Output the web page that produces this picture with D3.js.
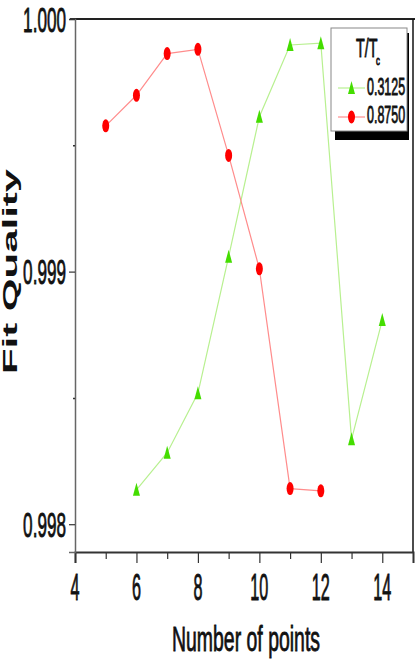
<!DOCTYPE html>
<html>
<head>
<meta charset="utf-8">
<script src="https://cdn.jsdelivr.net/npm/d3@7"></script>
<style>
  body { margin: 0; background: #fff; }
  svg { display: block; font-family: "Liberation Sans", Arial, sans-serif; }
</style>
</head>
<body>
<svg id="chart" width="415" height="664"></svg>
<script>
// data
var xTicks = [4, 6, 8, 10, 12, 14];
var xMinor = [5, 7, 9, 11, 13];
var yTicks = [0.998, 0.999, 1.000];
var yMinor = [0.9985, 0.9995];

var seriesNames = ["0.3125", "0.8750"];
var greenN = [6, 7, 8, 9, 10, 11, 12, 13, 14];
var greenFit = [0.998136, 0.998283, 0.998518, 0.999059, 0.999613, 0.999897, 0.999904, 0.998336, 0.998808];
var redN = [5, 6, 7, 8, 9, 10, 11, 12];
var redFit = [0.999577, 0.999698, 0.999863, 0.999880, 0.999460, 0.999011, 0.998141, 0.998132];

var svg = d3.select("#chart");

var plotLeft = 75, plotRight = 413, plotTop = 19, plotBottom = 552;

var x = d3.scaleLinear().domain([4, 15]).range([plotLeft, plotRight]);
var y = d3.scaleLinear().domain([0.99789, 1.0]).range([plotBottom, plotTop]);

// squeezed text helper (the picture is squashed sideways)
function label(g, txt, px, py, size, sx, anchor) {
  return g.append("text")
    .attr("transform", "translate(" + px + "," + py + ") scale(" + sx + ",1)")
    .attr("text-anchor", anchor)
    .style("font-size", size + "px")
    .attr("fill", "#111")
    .attr("stroke", "#111")
    .attr("stroke-width", 0.7)
    .attr("vector-effect", "non-scaling-stroke")
    .text(txt);
}

// frame
svg.append("line").attr("x1", 70).attr("x2", 415).attr("y1", plotTop).attr("y2", plotTop)
  .attr("stroke", "#222").attr("stroke-width", 2);
svg.append("line").attr("x1", plotRight).attr("x2", plotRight).attr("y1", plotTop).attr("y2", plotBottom)
  .attr("stroke", "#111").attr("stroke-width", 1.5);

// x axis
var xAxis = d3.axisBottom(x).tickValues(xTicks).tickSize(11).tickFormat("");
var gx = svg.append("g").attr("transform", "translate(0," + plotBottom + ")").call(xAxis);
gx.select(".domain").attr("stroke", "#333").attr("stroke-width", 2);
gx.selectAll(".tick line").attr("stroke", "#333").attr("stroke-width", 1.2);
var gxm = svg.append("g").attr("transform", "translate(0," + plotBottom + ")")
  .call(d3.axisBottom(x).tickValues(xMinor).tickSize(7).tickFormat(""));
gxm.select(".domain").remove();
gxm.selectAll(".tick line").attr("stroke", "#333").attr("stroke-width", 1.2);

xTicks.forEach(function(t) {
  label(svg, t, x(t), 600, 36, 0.45, "middle");
});

// y axis
var yAxis = d3.axisLeft(y).tickValues(yTicks).tickSize(6).tickFormat("");
var gy = svg.append("g").attr("transform", "translate(" + plotLeft + ",0)").call(yAxis);
gy.select(".domain").attr("stroke", "#666").attr("stroke-width", 1.5);
gy.selectAll(".tick line").attr("stroke", "#333").attr("stroke-width", 1.2);
var gym = svg.append("g").attr("transform", "translate(" + plotLeft + ",0)")
  .call(d3.axisLeft(y).tickValues(yMinor).tickSize(2).tickFormat(""));
gym.select(".domain").remove();
gym.selectAll(".tick line").attr("stroke", "#333").attr("stroke-width", 1.5);

yTicks.forEach(function(t) {
  label(svg, d3.format(".3f")(t), 66, y(t) + 12.5, 35, 0.49, "end");
});

// axis titles
label(svg, "Number of points", 246, 651, 36, 0.54, "middle");
svg.append("text")
  .attr("transform", "translate(17,271.5) rotate(-90) scale(2,1)")
  .attr("text-anchor", "middle")
  .style("font-size", "21px")
  .style("font-weight", "bold")
  .attr("fill", "#111")
  .text("Fit Quality");

// series
var line = d3.line()
  .x(function(d) { return x(d[0]); })
  .y(function(d) { return y(d[1]); });

var greenData = greenN.map(function(n, i) { return [n, greenFit[i]]; });
var redData = redN.map(function(n, i) { return [n, redFit[i]]; });

var triangle = "M0,-7L3.5,6L-3.5,6Z";

svg.append("path").datum(greenData).attr("d", line)
  .attr("fill", "none").attr("stroke", "#b8f090").attr("stroke-width", 1.2);
svg.append("path").datum(redData).attr("d", line)
  .attr("fill", "none").attr("stroke", "#ff8c8c").attr("stroke-width", 1.2);

svg.append("g").selectAll("path").data(greenData).enter().append("path")
  .attr("d", triangle)
  .attr("transform", function(d) { return "translate(" + x(d[0]) + "," + y(d[1]) + ")"; })
  .attr("fill", "#44dd00");

svg.append("g").selectAll("ellipse").data(redData).enter().append("ellipse")
  .attr("cx", function(d) { return x(d[0]); })
  .attr("cy", function(d) { return y(d[1]); })
  .attr("rx", 3.5).attr("ry", 6.5)
  .attr("fill", "#ff0000");

// legend
var lg = svg.append("g");
lg.append("rect").attr("x", 335).attr("y", 33).attr("width", 74).attr("height", 107).attr("fill", "#000");
lg.append("rect").attr("x", 331).attr("y", 28).attr("width", 76).attr("height", 103)
  .attr("fill", "#fff").attr("stroke", "#888").attr("stroke-width", 1);
label(lg, "T/T", 356, 57, 26, 0.55, "start");
label(lg, "c", 376, 65, 13, 0.6, "start");

lg.append("line").attr("x1", 338).attr("x2", 365).attr("y1", 88).attr("y2", 88)
  .attr("stroke", "#b8f090").attr("stroke-width", 1.2);
lg.append("path").attr("d", triangle).attr("transform", "translate(351.5,88)").attr("fill", "#44dd00");
label(lg, seriesNames[0], 367, 95, 24, 0.52, "start");

lg.append("line").attr("x1", 338).attr("x2", 365).attr("y1", 117).attr("y2", 117)
  .attr("stroke", "#ff8c8c").attr("stroke-width", 1.2);
lg.append("ellipse").attr("cx", 351.5).attr("cy", 117).attr("rx", 3.5).attr("ry", 6.5).attr("fill", "#ff0000");
label(lg, seriesNames[1], 367, 123, 24, 0.52, "start");
</script>
</body>
</html>
